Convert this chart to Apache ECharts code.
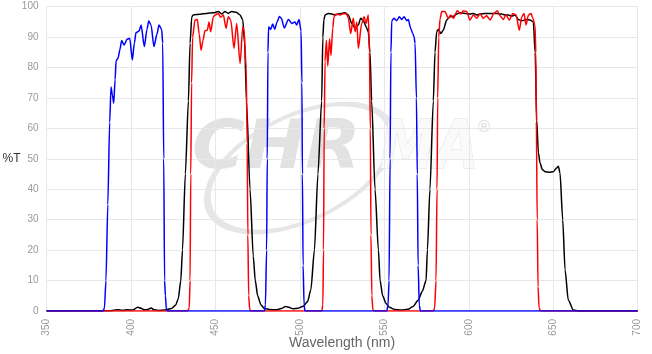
<!DOCTYPE html>
<html>
<head>
<meta charset="utf-8">
<title>Transmission</title>
<script src="https://cdn.jsdelivr.net/npm/echarts@6/dist/echarts.min.js"></script>
<style>
	html, body { margin: 0; padding: 0; background: #fff; }
	#main { width: 652px; height: 354px; }
</style>
</head>
<body>
<div id="main"></div>
<script>
// x axis ticks (nm) and y axis ticks (%T)
var xTicks = [350, 400, 450, 500, 550, 600, 650, 700];
var yTicks = [0, 10, 20, 30, 40, 50, 60, 70, 80, 90, 100];

// blue trace  [wavelength, %T]
var blueData = [
	[350, 0], [383.5, 0], [384.3, 1], [385.2, 10], [386.3, 35], [387.4, 62], [388.2, 73.6], [389, 71], [389.8, 68.3],
	[390.6, 76], [391.2, 82.3], [392.3, 83], [393.5, 86], [394.5, 88.9], [395.9, 87.4], [397.7, 89.3], [399.3, 89.6],
	[400.8, 82.5], [402, 88], [403, 91.5], [404.8, 92], [406, 94], [407.9, 86.9], [409.5, 92.5], [410.5, 95.3],
	[411.9, 94], [413.6, 86.9], [415.4, 91], [416.6, 94], [418.2, 92.5], [418.8, 88], [419.4, 50], [419.9, 10],
	[420.4, 5], [421, 0.3], [422, 0],
	[479, 0], [479.6, 2], [480.3, 20], [480.7, 50], [481.1, 85], [481.5, 93.4], [482.7, 92.5], [483.9, 94.3],
	[485.1, 92.6], [486.5, 95], [487.9, 96.8], [489, 96.2], [490.8, 93], [493.2, 95.8], [495.2, 94.5], [497.1, 95],
	[498.1, 94], [499.5, 95.8], [500.7, 92], [501.2, 75], [501.5, 45], [501.9, 15], [502.5, 2], [503, 0],
	[551.5, 0], [552.2, 2], [552.8, 10], [553.4, 50], [553.9, 85], [554.4, 95.4], [555.7, 96.2], [557.3, 95.4],
	[558.9, 96.7], [560.3, 95.8], [561.7, 96.7], [563.3, 95.4], [564.2, 95.8], [565.6, 92.9], [566.8, 91.2],
	[567.6, 90.1], [568.2, 88], [569, 70], [569.5, 45], [570, 15], [570.7, 2], [571.3, 0],
	[700, 0]
];

// red trace
var redData = [
	[350, 0], [433.5, 0], [434.5, 1], [435, 10], [435.4, 45], [435.9, 75], [436.5, 90], [437.9, 95.6], [439.3, 95.8],
	[440.4, 91], [441.5, 85.7], [442.7, 89], [443.8, 92.1], [445.2, 92.3], [446.2, 95], [447.2, 91.8], [448.8, 96.7],
	[449.9, 97.3], [451.7, 97.8], [453.1, 96.5], [454.7, 97.3], [456.3, 92.9], [457.6, 96.7], [459.1, 95.6],
	[461, 86.3], [462.6, 94.5], [464.6, 81.3], [466.2, 93.4], [467, 92], [468.2, 80], [468.8, 55], [469.2, 25],
	[469.7, 5], [470.3, 0.5], [471, 0],
	[513, 0], [513.6, 2], [514, 20], [514.4, 60], [514.9, 82], [515.7, 89], [516.5, 80.5], [517.6, 89.5],
	[518.4, 84], [519.5, 93], [520.2, 96.7], [521.4, 97.6], [523.8, 97.3], [526.1, 97.8], [527.7, 97.6],
	[528.7, 96.2], [530.1, 91.2], [531.6, 96.2], [532.7, 91.8], [533.7, 95], [534.6, 86.3], [536.6, 94.5],
	[538, 96.7], [539.2, 94.5], [540.5, 97.3], [541.2, 85], [541.7, 60], [542.1, 25], [542.6, 5], [543.2, 0.5], [544, 0],
	[579, 0], [579.8, 1], [580.6, 10], [581.2, 40], [581.6, 70], [582.2, 90], [583, 96], [584, 98.4], [585.9, 98.4],
	[587.9, 96.2], [589.3, 97.3], [590.9, 96.2], [593.2, 98.7], [595.2, 97.6], [596.8, 98.7], [598.8, 98.4],
	[600.7, 95.6], [602.7, 97.3], [604.7, 96.2], [606.7, 97.6], [608.6, 96.2], [610.6, 97], [612.6, 95.6],
	[614.9, 97.8], [616.9, 98.7], [618.5, 97], [620.4, 95.8], [622, 97.3], [624, 95.6], [626, 97.8], [628, 97.3],
	[629.9, 92.3], [631.4, 96.7], [632.7, 97.8], [633.9, 94], [635.3, 97.3], [636.9, 97.8], [637.9, 96.2],
	[639.2, 94], [639.7, 85], [640, 62], [640.5, 30], [641, 8], [641.6, 1], [642.5, 0],
	[700, 0]
];

// black trace
var blackData = [
	[350, 0], [388, 0.1], [392, 0.4], [395, 0.2], [398, 0.4], [401, 0.3], [404, 1.2], [406, 0.9], [408, 0.4],
	[410, 0.5], [412, 1], [413.5, 0.4], [416, 0.2], [420, 0.3], [424, 0.8], [426.5, 2], [428, 4], [429.5, 10],
	[430.5, 20], [432.2, 45], [434, 69], [435, 88], [436, 96.7], [436.9, 97.3], [440.9, 97.5], [444.8, 97.8],
	[448.8, 98], [451.7, 98.4], [453.7, 97.6], [455.7, 98.4], [457.6, 97.8], [459.6, 98.4], [462.6, 98.1],
	[464.6, 97.3], [466.2, 95.6], [467.3, 88], [468.4, 69], [470.5, 40], [472.4, 18], [473.6, 10], [475, 5],
	[477, 2], [479, 0.8], [482, 0.5], [486, 0.4], [489, 0.8], [491.5, 1.5], [493.5, 1.2], [496, 0.7], [499, 0.9],
	[502, 1.6], [504.5, 3], [506.5, 7], [508.6, 20], [510.7, 45], [512.9, 69], [513.6, 90], [514.2, 95.6],
	[514.9, 97.3], [516.9, 97.8], [518.9, 97.6], [520.8, 97.3], [522.8, 97.6], [524.8, 97.8], [526.7, 98],
	[528.7, 97.3], [530.7, 94.5], [532.7, 92.9], [534.6, 94], [536, 96.2], [537.6, 95.4], [539.2, 93.4],
	[540.5, 91.8], [541.5, 85], [542.5, 69], [544.5, 40], [546.5, 20], [547.5, 10], [549, 5], [551, 2.5],
	[553, 1.2], [556, 0.5], [560, 0.3], [564, 0.6], [567, 1.5], [570, 3.5], [572.5, 6.5], [574.7, 10],
	[575.5, 20], [577, 40], [579, 69], [580, 85], [581, 91.8], [582, 92.6], [583.4, 91.2], [584.9, 92.3],
	[586.9, 95.6], [588.9, 96.7], [590.9, 96.9], [592.9, 97.6], [594.8, 98], [597.8, 97.8], [600.7, 97.6],
	[602.7, 97.8], [604.7, 97.3], [606.7, 97.6], [609.6, 97.8], [612.6, 97.8], [616.5, 97.8], [619.5, 97.6],
	[621.5, 97.3], [623.4, 97.3], [625.4, 96.9], [627.4, 97.3], [629.3, 95.8], [631.4, 95.4], [633.9, 95.8],
	[636.3, 95.6], [638.2, 95], [639.3, 85], [640.2, 62.8], [641.2, 52], [642.2, 48.6], [643.5, 46.5],
	[645.1, 45.8], [648, 45.6], [650, 45.8], [652, 47], [653, 47.6], [654, 45.4], [655.6, 30], [657, 13.5],
	[658.9, 3.6], [661.9, 0.3], [665, 0], [700, 0]
];

var myChart = echarts.init(document.getElementById('main'));

var option = {
	animation: false,
	backgroundColor: '#fff',
	grid: {
		left: 46.5,
		right: 14.3,
		top: 6.7,
		bottom: 43,
		containLabel: false,
		outerBoundsMode: 'none'
	},
	// faint logo in the plot background
	graphic: [{
		type: 'group',
		z: -10,
		silent: true,
		children: [{
			type: 'circle',
			x: 300,
			y: 168,
			rotation: 0.45,
			scaleX: 1.05,
			scaleY: 0.55,
			shape: { cx: 0, cy: 0, r: 95 },
			style: { fill: 'none', stroke: '#e6e6e6', lineWidth: 7 }
		}, {
			type: 'text',
			x: 192,
			y: 184,
			scaleX: 1.06,
			style: {
				text: 'CHR',
				font: 'italic bold 68px "DejaVu Sans"',
				fill: '#e2e2e2',
				textVerticalAlign: 'bottom'
			}
		}, {
			type: 'text',
			x: 380,
			y: 184,
			scaleX: 0.82,
			style: {
				text: 'MA',
				font: 'italic bold 68px "DejaVu Sans"',
				fill: '#fafafa',
				stroke: '#dcdcdc',
				lineWidth: 1,
				textVerticalAlign: 'bottom'
			}
		}, {
			type: 'text',
			x: 476,
			y: 120,
			style: {
				text: '\u00ae',
				font: '16px "DejaVu Sans"',
				fill: '#dddddd'
			}
		}]
	}],
	xAxis: {
		type: 'value',
		min: xTicks[0],
		max: xTicks[xTicks.length - 1],
		interval: 50,
		name: 'Wavelength (nm)',
		nameLocation: 'middle',
		nameGap: 25,
		nameMoveOverlap: false,
		nameTextStyle: {
			color: '#666',
			fontSize: 14,
			fontFamily: 'Liberation Sans'
		},
		axisLine: { show: false },
		axisTick: { show: false },
		axisLabel: {
			rotate: 90,
			color: '#999',
			fontSize: 10,
			fontFamily: 'Liberation Sans',
			margin: 8
		},
		splitLine: {
			show: true,
			lineStyle: { color: '#e8e8e8', width: 1 }
		}
	},
	yAxis: {
		type: 'value',
		min: yTicks[0],
		max: yTicks[yTicks.length - 1],
		interval: 10,
		name: '%T',
		nameLocation: 'middle',
		nameRotate: 0,
		nameGap: 26,
		nameMoveOverlap: false,
		nameTextStyle: {
			color: '#333',
			fontSize: 12,
			fontFamily: 'Liberation Sans'
		},
		axisLine: { show: false },
		axisTick: { show: false },
		axisLabel: {
			color: '#999',
			fontSize: 10,
			fontFamily: 'Liberation Sans',
			margin: 8
		},
		splitLine: {
			show: true,
			lineStyle: { color: '#e8e8e8', width: 1 }
		}
	},
	series: [{
		name: 'black',
		type: 'line',
		data: blackData,
		showSymbol: false,
		smooth: 0.25,
		smoothMonotone: 'x',
		lineStyle: { color: '#000', width: 1.5 }
	}, {
		name: 'red',
		type: 'line',
		data: redData,
		showSymbol: false,
		smooth: 0.25,
		smoothMonotone: 'x',
		lineStyle: { color: '#ff0000', width: 1.5 }
	}, {
		name: 'blue',
		type: 'line',
		data: blueData,
		showSymbol: false,
		smooth: 0.25,
		smoothMonotone: 'x',
		lineStyle: { color: '#0000ff', width: 1.5 }
	}]
};

myChart.setOption(option);
</script>
</body>
</html>
